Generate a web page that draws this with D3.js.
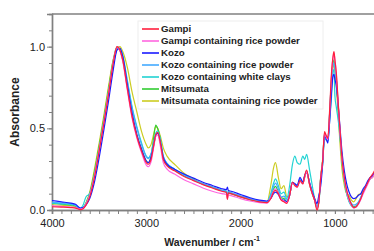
<!DOCTYPE html>
<html>
<head>
<meta charset="utf-8">
<script src="https://cdn.jsdelivr.net/npm/d3@7"></script>
<style>
  html, body { margin: 0; padding: 0; background: #fff; }
  svg { display: block; font-family: Arial, "Liberation Sans", sans-serif; }
</style>
</head>
<body>
<div id="chart"></div>
<script>
// chart config
const config = {
    width: 374,
    height: 251,
    margin: { top: 14, left: 52, bottom: 41 },
    pxPerUnit: 0.0943   // px per cm-1
};

// shared wavenumber grid (cm-1)
const wavenumbers = [
    4000, 3900, 3800, 3750, 3700, 3670, 3640, 3600, 3550, 3500,
    3450, 3400, 3350, 3310, 3280, 3250, 3200, 3150, 3100, 3050,
    3000, 2980, 2950, 2920, 2900, 2880, 2850, 2820, 2780, 2700,
    2600, 2500, 2400, 2300, 2200, 2150, 2140, 2130, 2100, 2000,
    1900, 1800, 1720, 1680, 1650, 1630, 1600, 1570, 1540, 1510,
    1480, 1450, 1425, 1400, 1370, 1340, 1320, 1300, 1270, 1240,
    1215, 1190, 1170, 1150, 1130, 1110, 1095, 1075, 1055, 1035,
    1020, 1010, 1000, 985, 965, 945, 925, 900, 875, 850,
    825, 800, 775, 750, 725, 700, 675, 650, 625, 600,
    580
];

const seriesNames = [
    'Gampi',
    'Gampi containing rice powder',
    'Kozo',
    'Kozo containing rice powder',
    'Kozo containing white clays',
    'Mitsumata',
    'Mitsumata containing rice powder'
];

const seriesColors = ['#ff1f3d', '#ff66e0', '#1a1aff', '#44aaff', '#22d3d3', '#33cc33', '#cccc22'];

const gampi = [
    0.02, 0.018, 0.015, 0.012, 0.002, 0.008, 0.03, 0.08, 0.2, 0.36,
    0.53, 0.71, 0.9, 1.0, 0.98, 0.92, 0.74, 0.57, 0.45, 0.36,
    0.29, 0.28, 0.31, 0.4, 0.46, 0.475, 0.41, 0.31, 0.27, 0.24,
    0.205, 0.18, 0.155, 0.135, 0.115, 0.108, 0.065, 0.105, 0.1, 0.08,
    0.063, 0.05, 0.045, 0.07, 0.11, 0.12, 0.1, 0.06, 0.05, 0.04,
    0.09, 0.17, 0.15, 0.14, 0.18, 0.16, 0.21, 0.245, 0.16, 0.1,
    0.06, 0.0, 0.05, 0.2, 0.3, 0.48, 0.46, 0.44, 0.62, 0.85,
    0.94, 0.97, 0.92, 0.84, 0.66, 0.48, 0.32, 0.2, 0.12, 0.07,
    0.035, 0.015, 0.02, 0.04, 0.07, 0.11, 0.14, 0.17, 0.2, 0.22,
    0.24
];

const gampiRice = [
    0.025, 0.022, 0.018, 0.015, 0.005, 0.01, 0.035, 0.09, 0.21, 0.37,
    0.54, 0.72, 0.91, 1.0, 0.975, 0.91, 0.73, 0.56, 0.44, 0.35,
    0.275, 0.265, 0.295, 0.39, 0.45, 0.46, 0.39, 0.29, 0.25, 0.22,
    0.185, 0.16, 0.135, 0.115, 0.1, 0.095, 0.07, 0.092, 0.088, 0.07,
    0.055, 0.045, 0.042, 0.075, 0.115, 0.13, 0.105, 0.065, 0.055, 0.045,
    0.09, 0.165, 0.15, 0.14, 0.175, 0.16, 0.2, 0.235, 0.16, 0.1,
    0.06, 0.01, 0.05, 0.2, 0.3, 0.47, 0.45, 0.43, 0.6, 0.83,
    0.93, 0.96, 0.92, 0.83, 0.65, 0.47, 0.31, 0.19, 0.11, 0.06,
    0.03, 0.012, 0.018, 0.035, 0.065, 0.1, 0.13, 0.16, 0.19, 0.2,
    0.22
];

const kozo = [
    0.058, 0.05, 0.042, 0.035, 0.012, 0.015, 0.03, 0.07, 0.17, 0.32,
    0.49, 0.67, 0.86, 0.98, 0.99, 0.94, 0.76, 0.59, 0.46, 0.37,
    0.3, 0.29, 0.32, 0.4, 0.455, 0.47, 0.41, 0.32, 0.28, 0.25,
    0.22, 0.195, 0.17, 0.15, 0.13, 0.125, 0.14, 0.12, 0.115, 0.095,
    0.075, 0.06, 0.055, 0.07, 0.1, 0.11, 0.095, 0.065, 0.06, 0.05,
    0.09, 0.17, 0.16, 0.15, 0.2, 0.17, 0.21, 0.23, 0.17, 0.11,
    0.07, 0.04, 0.09, 0.15, 0.28, 0.45, 0.44, 0.41, 0.55, 0.73,
    0.82, 0.83, 0.8, 0.76, 0.64, 0.5, 0.36, 0.24, 0.16, 0.11,
    0.08, 0.07, 0.075, 0.09, 0.1, 0.13, 0.15, 0.18, 0.2, 0.21,
    0.23
];

const kozoRice = [
    0.048, 0.043, 0.038, 0.03, 0.01, 0.015, 0.04, 0.09, 0.21, 0.37,
    0.54, 0.72, 0.9, 0.99, 0.99, 0.94, 0.78, 0.62, 0.5, 0.4,
    0.325, 0.315, 0.34, 0.41, 0.46, 0.475, 0.42, 0.33, 0.285, 0.25,
    0.215, 0.185, 0.16, 0.14, 0.12, 0.115, 0.1, 0.11, 0.105, 0.085,
    0.068, 0.055, 0.05, 0.09, 0.145, 0.165, 0.13, 0.08, 0.085, 0.06,
    0.1, 0.17, 0.16, 0.15, 0.19, 0.17, 0.21, 0.235, 0.17, 0.11,
    0.065, 0.02, 0.06, 0.2, 0.3, 0.46, 0.45, 0.43, 0.6, 0.8,
    0.89, 0.9, 0.86, 0.8, 0.64, 0.47, 0.32, 0.2, 0.12, 0.07,
    0.04, 0.03, 0.035, 0.05, 0.08, 0.11, 0.14, 0.17, 0.2, 0.21,
    0.225
];

const kozoClay = [
    0.042, 0.038, 0.034, 0.028, 0.01, 0.03, 0.08, 0.1, 0.21, 0.37,
    0.54, 0.72, 0.89, 0.98, 0.99, 0.95, 0.79, 0.63, 0.51, 0.41,
    0.33, 0.32, 0.345, 0.42, 0.47, 0.485, 0.43, 0.33, 0.285, 0.25,
    0.215, 0.185, 0.16, 0.14, 0.12, 0.115, 0.1, 0.112, 0.105, 0.085,
    0.068, 0.055, 0.05, 0.1, 0.165, 0.19, 0.15, 0.1, 0.11, 0.07,
    0.15, 0.28, 0.33, 0.29, 0.28, 0.33, 0.31, 0.34, 0.25, 0.15,
    0.07, 0.02, 0.05, 0.18, 0.28, 0.44, 0.43, 0.42, 0.55, 0.7,
    0.85, 0.86, 0.7, 0.63, 0.55, 0.44, 0.3, 0.18, 0.1, 0.05,
    0.025, 0.015, 0.02, 0.04, 0.07, 0.11, 0.14, 0.17, 0.19, 0.21,
    0.22
];

const mitsumata = [
    0.04, 0.036, 0.03, 0.025, 0.008, 0.012, 0.04, 0.1, 0.23, 0.39,
    0.56, 0.74, 0.92, 1.0, 0.98, 0.92, 0.75, 0.58, 0.46, 0.37,
    0.3, 0.29, 0.33, 0.45, 0.52, 0.5, 0.43, 0.32, 0.275, 0.245,
    0.21, 0.183, 0.158, 0.138, 0.118, 0.11, 0.095, 0.105, 0.1, 0.08,
    0.064, 0.05, 0.046, 0.085, 0.13, 0.145, 0.11, 0.075, 0.07, 0.05,
    0.09, 0.17, 0.155, 0.145, 0.18, 0.165, 0.205, 0.24, 0.165, 0.1,
    0.06, 0.01, 0.05, 0.2, 0.3, 0.47, 0.45, 0.43, 0.6, 0.82,
    0.9, 0.92, 0.88, 0.8, 0.63, 0.46, 0.3, 0.18, 0.1, 0.055,
    0.03, 0.02, 0.025, 0.045, 0.075, 0.11, 0.14, 0.17, 0.195, 0.21,
    0.23
];

const mitsumataRice = [
    0.032, 0.029, 0.025, 0.02, 0.006, 0.012, 0.045, 0.11, 0.25, 0.41,
    0.58, 0.76, 0.92, 0.99, 1.0, 0.97, 0.87, 0.72, 0.6, 0.48,
    0.4, 0.38, 0.4, 0.47, 0.51, 0.5, 0.45, 0.38, 0.33, 0.28,
    0.225, 0.19, 0.16, 0.14, 0.12, 0.112, 0.1, 0.108, 0.102, 0.082,
    0.065, 0.052, 0.048, 0.15, 0.26, 0.29, 0.2, 0.13, 0.15, 0.08,
    0.1, 0.17, 0.155, 0.145, 0.18, 0.165, 0.2, 0.235, 0.16, 0.1,
    0.06, 0.02, 0.06, 0.21, 0.31, 0.46, 0.45, 0.43, 0.58, 0.78,
    0.87, 0.89, 0.85, 0.76, 0.58, 0.4, 0.25, 0.15, 0.1, 0.09,
    0.06, 0.05, 0.07, 0.095, 0.1, 0.12, 0.14, 0.17, 0.19, 0.2,
    0.22
];

const seriesValues = [gampi, gampiRice, kozo, kozoRice, kozoClay, mitsumata, mitsumataRice];

const xMajorTicks = [4000, 3000, 2000, 1000];
const yMajorTicks = [0, 0.5, 1.0];

function init() {
    const svg = d3.select('#chart')
        .append('svg')
        .attr('width', config.width)
        .attr('height', config.height);

    const left = config.margin.left;
    const bottom = config.height - config.margin.bottom;   // 210
    const top = config.margin.top;

    // x runs from 4000 down to 400, the right part falls outside the picture
    const x = d3.scaleLinear()
        .domain([4000, 400])
        .range([left, left + 3600 * config.pxPerUnit]);

    const y = d3.scaleLinear()
        .domain([0, 1.2])
        .range([bottom, top]);

    const axisColor = '#808080';
    const textColor = '#222';

    // top frame line
    svg.append('line')
        .attr('x1', left).attr('x2', config.width + 5)
        .attr('y1', y(1.2)).attr('y2', y(1.2))
        .attr('stroke', axisColor)
        .attr('stroke-width', 1.4);

    // x axis: minor ticks every 100, labels every 1000
    const xMinor = svg.append('g')
        .attr('transform', `translate(0,${bottom})`)
        .call(d3.axisBottom(x).tickValues(d3.range(4000, 400, -100)).tickSize(4).tickFormat(''));
    const xMajor = svg.append('g')
        .attr('transform', `translate(0,${bottom})`)
        .call(d3.axisBottom(x).tickValues(xMajorTicks).tickSize(4).tickPadding(5).tickFormat(d3.format('d')));

    // y axis: minor ticks every 0.1
    const yMinor = svg.append('g')
        .attr('transform', `translate(${left},0)`)
        .call(d3.axisLeft(y).tickValues(d3.range(0, 1.21, 0.1)).tickSize(3).tickFormat(''));
    const yMajor = svg.append('g')
        .attr('transform', `translate(${left},0)`)
        .call(d3.axisLeft(y).tickValues(yMajorTicks).tickSize(5).tickPadding(2).tickFormat(d3.format('.1f')));

    [xMinor, xMajor, yMinor, yMajor].forEach(g => {
        g.select('.domain').attr('stroke', axisColor).attr('stroke-width', 1.4);
        g.selectAll('.tick line').attr('stroke', axisColor);
        g.selectAll('.tick text')
            .attr('fill', textColor)
            .style('font-size', '11px');
    });

    // spectra, Gampi drawn last so it sits on top
    const line = d3.line()
        .x((d, i) => x(wavenumbers[i]))
        .y(d => y(d))
        .curve(d3.curveMonotoneX);

    const series = seriesNames.map((name, i) => ({ name, color: seriesColors[i], values: seriesValues[i] }));

    svg.append('g')
        .selectAll('path')
        .data(series.slice().reverse())
        .enter()
        .append('path')
        .attr('d', d => line(d.values))
        .attr('fill', 'none')
        .attr('stroke', d => d.color)
        .attr('stroke-width', 1.2)
        .attr('stroke-linejoin', 'round');

    // legend
    const legend = svg.append('g');
    legend.append('rect')
        .attr('x', 138).attr('y', 21)
        .attr('width', 185).attr('height', 88)
        .attr('fill', '#fff')
        .attr('stroke', '#eeeeee');

    const rows = legend.selectAll('g.row')
        .data(series)
        .enter()
        .append('g')
        .attr('class', 'row')
        .attr('transform', (d, i) => `translate(142,${29 + i * 12})`);

    rows.append('line')
        .attr('x1', 0).attr('x2', 17)
        .attr('stroke', d => d.color)
        .attr('stroke-width', 1.6);

    rows.append('text')
        .attr('x', 19)
        .attr('dy', '0.35em')
        .attr('fill', textColor)
        .style('font-size', '9.7px')
        .style('font-weight', 'bold')
        .text(d => d.name);

    // axis titles
    svg.append('text')
        .attr('transform', `translate(19,${(top + bottom) / 2}) rotate(-90)`)
        .attr('text-anchor', 'middle')
        .attr('fill', textColor)
        .style('font-size', '12px')
        .style('font-weight', 'bold')
        .text('Absorbance');

    const xTitle = svg.append('text')
        .attr('x', 212)
        .attr('y', 246)
        .attr('text-anchor', 'middle')
        .attr('fill', textColor)
        .style('font-size', '10.5px')
        .style('font-weight', 'bold');
    xTitle.append('tspan').text('Wavenumber / cm');
    xTitle.append('tspan')
        .attr('dy', -5)
        .style('font-size', '7px')
        .text('-1');
}

window.addEventListener('DOMContentLoaded', init);
</script>
</body>
</html>
